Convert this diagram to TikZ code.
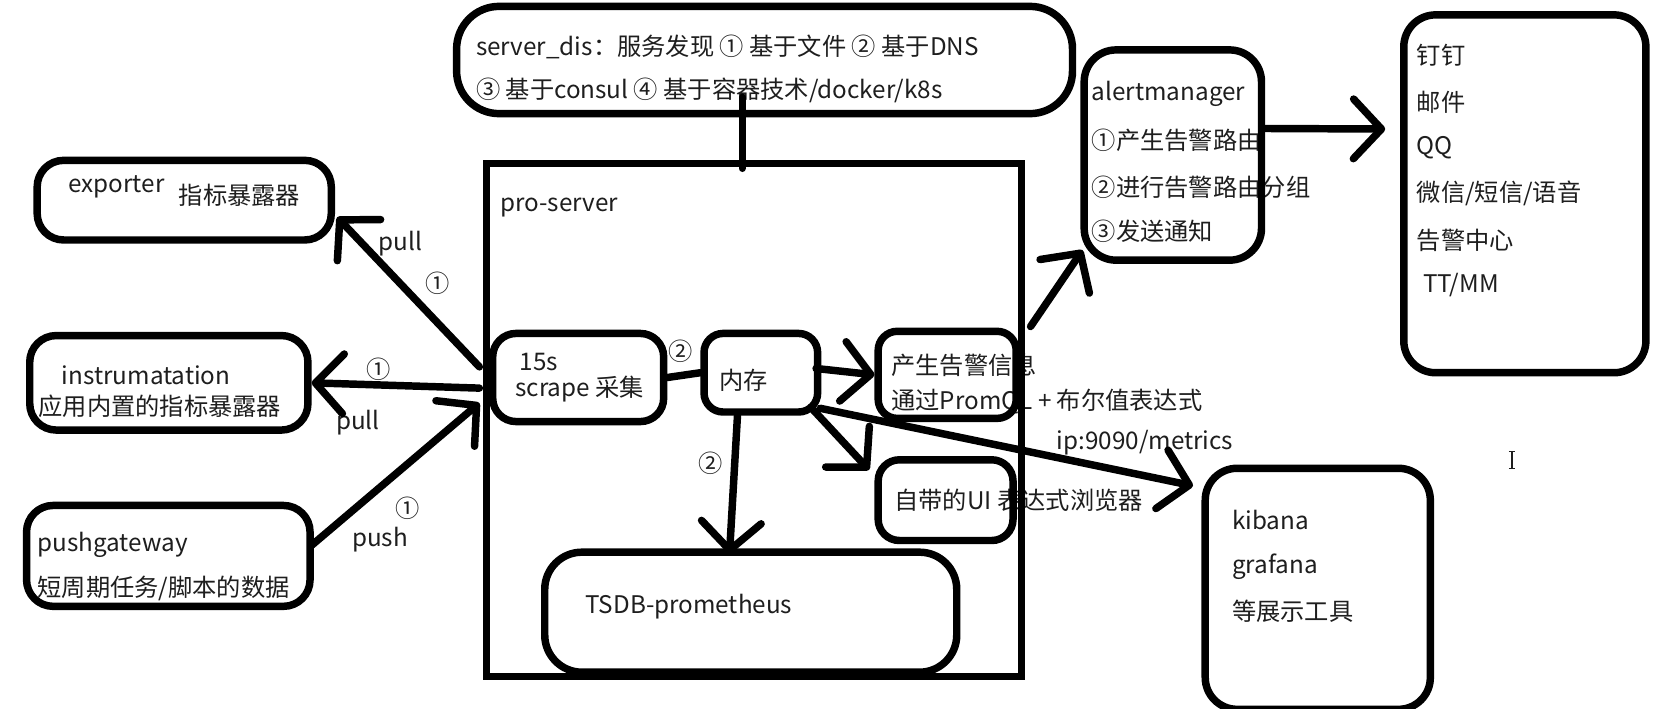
\documentclass[tikz,border=0pt]{standalone}
\usepackage{fontspec}
\setmainfont{Noto Sans CJK SC}
\usetikzlibrary{arrows.meta,calc,fit}
\definecolor{ink}{HTML}{1E1E1E}
\begin{document}
\begin{tikzpicture}[x=0.02cm,y=-0.02cm,
  every node/.style={font=\fontsize{13}{15}\selectfont, text=ink},
  txt/.style={anchor=west, inner sep=0pt},
  lbl/.style={inner sep=0pt},
  box/.style={draw, line width=4pt, rounded corners=#1, inner sep=0pt},
  box/.default=0.5cm,
  conn/.style={line width=4pt, line cap=round, line join=round},
  arr/.style={conn, -{Straight Barb[length=15pt,width=32pt,round]}},
]
\fill[white] (0,0) rectangle (1568,667);
\clip (0,0) rectangle (1568,667);

% ---------- texts ----------
\node[txt] (sdA) at (448,44) {server\_dis：服务发现 ① 基于文件 ② 基于DNS};
\node[txt] (sdB) at (448,85) {③ 基于consul ④ 基于容器技术/docker/k8s};
\node[txt] (proT) at (471,195) {pro-server};
\node[txt] (expA) at (64,176) {exporter};
\node[txt] (expB) at (168,184) {指标暴露器};
\node[txt] (insA) at (58,353) {instrumatation};
\node[txt] (insB) at (36,383) {应用内置的指标暴露器};
\node[txt] (pgA) at (35,513) {pushgateway};
\node[txt] (pgB) at (35,554) {短周期任务/脚本的数据};
\node[txt] (scrA) at (489,341) {15s};
\node[txt] (scrB) at (485,366) {scrape 采集};
\node[txt] (memT) at (677,358) {内存};
\node[txt] (almA) at (839,344) {产生告警信息};
\node[txt] (almB) at (839,378) {通过PromQL + 布尔值表达式};
\node[txt] (uiT) at (842,471) {自带的UI 表达式浏览器};
\node[txt] (tsdbT) at (551,571) {TSDB-prometheus};
\node[txt] (amA) at (1028,88) {alertmanager};
\node[txt] (amB) at (1028,132) {①产生告警路由};
\node[txt] (amC) at (1028,176) {②进行告警路由分组};
\node[txt] (amD) at (1028,218) {③发送通知};
\node[txt] (nA) at (1334,52) {钉钉};
\node[txt] (nB) at (1334,96) {邮件};
\node[txt] (nC) at (1334,139) {QQ};
\node[txt] (nD) at (1334,182) {微信/短信/语音};
\node[txt] (nE) at (1334,226) {告警中心};
\node[txt] (nF) at (1340,268) {TT/MM};
\node[txt] (kA) at (1160,490) {kibana};
\node[txt] (kB) at (1160,534) {grafana};
\node[txt] (kC) at (1160,576) {等展示工具};

% connector labels
\node[lbl] (l1) at (377,229) {pull};
\node[lbl] (l2) at (412,267) {①};
\node[lbl] (l3) at (357,348) {①};
\node[lbl] (l4) at (337,398) {pull};
\node[lbl] (l5) at (384,479) {①};
\node[lbl] (l6) at (358,508) {push};
\node[lbl] (l7) at (641,331) {②};
\node[lbl] (l8) at (669,436) {②};
\node[txt] (l9) at (995,417) {ip:9090/metrics};

% ---------- boxes ----------
\node[box=0.8cm, fit={(430,6) (1010,107)}] (sd) {};
\node[box=0pt, fit={(458,154) (962,637)}] (pro) {};
\node[box, fit={(35,151) (312,226)}] (exp) {};
\node[box, fit={(28,316) (290,405)}] (ins) {};
\node[box, fit={(25,476) (292,571)}] (pg) {};
\node[box=0.44cm, fit={(464,314) (625,397)}] (scr) {};
\node[box=0.36cm, fit={(663,314) (770,388)}] (mem) {};
\node[box=0.36cm, fit={(827,312) (957,394)}] (alm) {};
\node[box=0.4cm, fit={(827,433) (954,509)}] (ui) {};
\node[box=0.7cm, fit={(513,520) (901,633)}] (tsdb) {};
\node[box=0.6cm, fit={(1021,47) (1188,245)}] (am) {};
\node[box=0.6cm, fit={(1322,14) (1550,351)}] (ntf) {};
\node[box=0.6cm, fit={(1135,441) (1347,668)}] (kib) {};

% ---------- connectors ----------
\draw[conn] ($(sd.south)+(-21,-19)$) -- ($(pro.north)+(-11,8)$);
\draw[arr] ($(scr.west)+(-9,-10)$) -- ($(exp.east)+(2,16)$);
\draw[arr] ($(scr.west)+(-9,10)$) -- (ins.east);
\draw[arr] ($(pg.east)+(-2,-10)$) -- ($(scr.west)+(-9,24)$);
\draw[conn] (scr.east) -- (mem.west);
\draw[arr] ($(mem.east)+(-5,-4)$) -- (alm.west);
\draw[arr] ($(mem.south)+(-22,0)$) -- ($(tsdb.north)+(-20,5)$);
\draw[arr] ($(mem.south east)+(-10,-8)$) -- ($(ui.north west)+(-5,13)$);
\draw[arr] ($(mem.south east)+(-1,-7)$) -- ($(kib.north west)+(-8,20)$);
\draw[arr] ($(alm.north east)+(10,-1)$) -- ($(am.south west)+(2,-13)$);
\draw[arr] ($(am.east)+(0,-25)$) -- ($(ntf.west)+(-14,-61)$);

% text cursor
\draw[ink, line width=0.8pt] (1424,425) -- (1424,441)
  (1421,425) -- (1427,425) (1421,441) -- (1427,441);
\end{tikzpicture}
\end{document}
